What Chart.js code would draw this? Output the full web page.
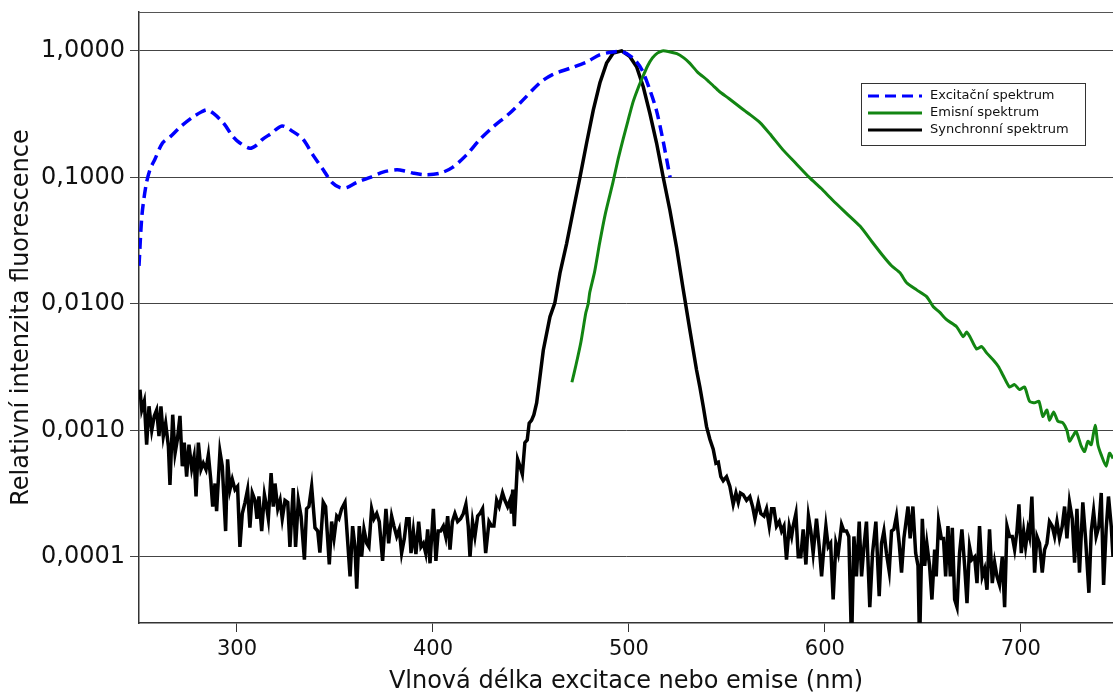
<!DOCTYPE html>
<html>
<head>
<meta charset="utf-8">
<script src="https://cdn.jsdelivr.net/npm/chart.js@4/dist/chart.umd.min.js"></script>
<style>
  html, body { margin: 0; padding: 0; background: #fff; }
</style>
</head>
<body>
<canvas id="spectraChart" width="1113" height="696"></canvas>
<script>
// -------------------------
// DATA
// -------------------------

const xTicks = [300, 400, 500, 600, 700];
const yTicks = [1, 0.1, 0.01, 0.001, 0.0001];

const seriesLabels = ["Excitační spektrum", "Emisní spektrum", "Synchronní spektrum"];

const excitationNm = [250, 251.5, 253.6, 255.6, 258, 262, 266, 271, 277.5, 282, 284.7, 288, 293, 298, 301.5,
  306.6, 310, 313, 317, 323, 328.6, 333.7, 338.8, 344, 348.5, 352.6, 356, 361, 368, 374.5, 381.6, 386, 390,
  396, 403.6, 410, 417, 424, 430.6, 439, 446, 454.6, 461, 470, 478.6, 485, 491.8, 497, 502, 506.6, 510.7,
  514, 517, 521];
const excitationValues = [0.020, 0.050, 0.087, 0.115, 0.138, 0.187, 0.21, 0.25, 0.30, 0.33, 0.342, 0.32, 0.27,
  0.21, 0.187, 0.17, 0.18, 0.20, 0.22, 0.255, 0.23, 0.20, 0.15, 0.115, 0.091, 0.083, 0.083, 0.091, 0.10, 0.11,
  0.115, 0.112, 0.108, 0.105, 0.108, 0.12, 0.15, 0.20, 0.25, 0.32, 0.41, 0.56, 0.65, 0.73, 0.82, 0.93, 0.98,
  0.98, 0.88, 0.71, 0.49, 0.34, 0.21, 0.10];

const emissionNm = [470.9, 473, 475.5, 478, 479.2, 480, 482.5, 485, 488, 491.8, 494.5, 497, 499.5, 502, 504.5,
  507, 509.5, 512, 514.5, 517, 520, 524.5, 528, 531, 535, 539.8, 543, 546, 551, 556.6, 561, 567, 572, 578.6,
  585, 592, 598, 604, 611, 618, 624, 629.6, 634, 638.3, 641.7, 646.8, 651.9, 655.3, 658.5, 662.1, 667.2,
  670.6, 672.3, 674, 677.4, 680, 682.5, 685.9, 688.5, 691, 694.2, 696.8, 699.3, 701.9, 704.4, 707, 709.2,
  711.2, 713.3, 714.6, 716.7, 718.9, 721.4, 723.5, 724.8, 726.5, 728.2, 730.8, 732.5, 734.2, 735.9, 737.9,
  739.3, 741, 743.5, 745.2, 747];
const emissionValues = [0.0024, 0.0033, 0.0050, 0.0085, 0.0100, 0.0123, 0.018, 0.030, 0.052, 0.091, 0.14, 0.20,
  0.28, 0.39, 0.50, 0.62, 0.76, 0.88, 0.96, 1.0, 0.99, 0.95, 0.88, 0.80, 0.68, 0.59, 0.53, 0.48, 0.42, 0.36,
  0.32, 0.27, 0.22, 0.165, 0.13, 0.10, 0.082, 0.066, 0.052, 0.041, 0.031, 0.024, 0.020, 0.0176, 0.0147,
  0.0129, 0.0114, 0.0095, 0.0086, 0.0075, 0.0066, 0.0055, 0.0060, 0.0055, 0.0044, 0.0046, 0.0041, 0.0036,
  0.0032, 0.0027, 0.0022, 0.0023, 0.0021, 0.0022, 0.0017, 0.00165, 0.0017, 0.00129, 0.00145, 0.0012, 0.0014,
  0.00118, 0.00115, 0.0010, 0.00082, 0.0009, 0.00098, 0.00075, 0.00068, 0.00082, 0.00077, 0.0011, 0.00077,
  0.00064, 0.00052, 0.00066, 0.0006];

const synchronousNm = [250.5, 251.4, 252.7, 253.9, 255.1, 256.5, 257.8, 259.0, 260.2, 261.2, 262.4, 263.6, 265.0,
  265.8, 267.2, 268.4, 269.6, 270.9, 272.1, 273.1, 274.3, 275.5, 276.9, 278.1, 279.1, 280.3, 281.6, 282.8,
  284.2, 285.4, 286.6, 287.6, 288.8, 289.6, 291.3, 292.5, 294.2, 295.2, 296.4, 297.6, 299.0, 300.3, 301.5,
  302.7, 304.1, 305.4, 306.6, 307.8, 309.2, 310.2, 311.2, 312.6, 314.0, 315.1, 316.0, 317.4, 318.5, 319.4,
  320.8, 322.0, 323.1, 324.5, 325.9, 327.0, 328.7, 329.9, 331.3, 332.7, 334.4, 335.5, 336.7, 338.1, 339.8,
  341.2, 342.3, 344.0, 345.2, 347.1, 348.3, 349.5, 350.9, 352.0, 353.4, 355.1,
  356.3, 357.7, 359.0, 360.2, 361.1, 362.4, 363.6, 364.8, 366.2, 367.3, 368.7, 369.9, 371.3, 372.6, 374.3,
  376.0, 377.4, 378.9, 380.1, 381.5, 382.8, 384.0, 385.4, 386.6, 387.8, 388.8, 390.0, 391.3, 392.7, 393.9,
  395.1, 396.3, 397.3, 398.5, 400.2, 401.5, 402.7, 403.9, 405.3, 406.5, 407.5, 408.7, 409.9, 411.2, 412.6,
  414.1, 415.5, 416.8, 418.0, 418.9, 420.2, 421.4, 422.8, 424.0, 425.3, 426.9, 428.6, 429.9, 431.1, 432.5,
  433.8, 435.5, 436.7, 438.1, 439.3, 440.1, 440.7, 441.5, 443.2, 444.4, 445.6, 446.9, 448.1, 449.1, 450.3,
  451.5, 452.9, 454.1,
  456.3, 459.7, 462.2, 464.8, 468.2, 471.6, 475.0, 478.4, 481.8, 485.2, 488.6, 492.0, 496.3, 500.5, 503.9,
  507.3, 510.7, 514.1, 517.5, 520.9, 524.3, 527.7, 531.1, 534.5,
  536.2, 537.9, 539.6, 541.3, 543.0, 544.4, 545.6, 546.9, 548.1, 549.8, 551.5, 553.2, 554.6, 555.8, 556.9,
  558.3, 560.0, 561.7, 563.1, 564.3, 566.0, 567.3, 568.9, 570.2, 571.6, 572.8, 574.0, 575.3, 576.7, 577.9,
  579.1, 580.4, 581.8, 583.0, 583.8, 585.2, 586.4, 587.7, 588.9, 590.3, 591.6, 592.8, 594.0, 595.7, 597.1,
  598.3, 599.5, 600.5, 601.7, 602.9, 604.2, 605.6, 606.8, 608.5, 609.7, 611.0, 612.2, 613.6, 614.8, 616.1,
  617.5, 618.7, 619.9, 621.2, 622.9, 624.3, 626.0, 627.7, 628.9, 630.1, 631.4, 632.8, 634.0, 635.2, 636.5,
  637.9, 639.1, 640.3,
  642.4, 643.5, 644.9, 646.3, 647.5, 648.3, 649.7, 650.9, 652.0, 653.4, 654.6, 656.0, 656.8, 658.0, 659.4,
  660.5, 661.6, 662.8, 664.0, 665.0, 666.2, 667.4, 668.7, 669.9, 671.3, 672.5, 673.8, 675.0, 676.4, 677.6,
  678.9, 680.3, 681.5, 682.7, 684.0, 685.4, 686.6, 687.8, 689.1, 690.5, 691.7, 692.9, 694.2, 695.6, 696.8,
  698.0, 699.0, 700.2, 701.4, 702.4, 703.6, 704.4, 705.6, 707.0, 708.2, 709.5, 710.9, 712.1, 713.3, 714.6,
  716.0, 717.2, 718.4, 719.7, 721.1, 722.3, 723.5, 724.8, 726.2, 727.4, 728.6, 729.9, 731.6, 733.0, 734.7,
  735.9, 737.1, 738.4, 739.8, 741.0, 742.2, 743.5, 744.7, 746.1, 747.0];
const synchronousValues = [0.0021, 0.00145, 0.0017, 0.00077, 0.00155, 0.0010, 0.0013, 0.00145, 0.00090, 0.00155,
  0.00090, 0.00114, 0.00075, 0.00037, 0.00133, 0.00066, 0.00085, 0.0013, 0.00052, 0.0008, 0.00043, 0.00077,
  0.00050, 0.00062, 0.0003, 0.0008, 0.00049, 0.00055, 0.00049, 0.00064, 0.00041, 0.00025, 0.00038, 0.00023,
  0.00068, 0.00052, 0.00016, 0.00059, 0.00034, 0.00041, 0.00034, 0.00036, 0.00012, 0.00022, 0.00027,
  0.00034, 0.00017, 0.00032, 0.00028, 0.0002, 0.0003, 0.00016, 0.00031, 0.00025, 0.0002, 0.00046, 0.00025,
  0.00038, 0.00024, 0.00028, 0.0002, 0.00028, 0.00027, 0.00012, 0.00035, 0.00012, 0.00028, 0.00021,
  0.000095, 0.00024, 0.00025, 0.00036, 0.00017, 0.00016, 0.000108, 0.00027, 0.00025, 0.000087, 0.00019,
  0.00014, 0.00021, 0.0002, 0.00024, 0.00027,
  0.000145, 0.00007, 0.000175, 0.00012, 0.000056, 0.000175, 0.0001, 0.000165, 0.000128, 0.00012, 0.00024,
  0.0002, 0.00022, 0.00019, 0.000093, 0.00024, 0.000128, 0.00021, 0.000175, 0.000145, 0.000165, 0.000107,
  0.00014, 0.0002, 0.0002, 0.000107, 0.00016, 0.000105, 0.00019, 0.00012, 0.000128, 0.000107, 0.000165,
  0.000089, 0.00024, 0.000093, 0.00016, 0.00016, 0.000175, 0.000145, 0.00021, 0.000114, 0.00019, 0.00022,
  0.00019, 0.0002, 0.00022, 0.00026, 0.000175, 0.0001, 0.00019, 0.000145, 0.00021, 0.00022, 0.00024,
  0.000107, 0.00019, 0.000175, 0.000175, 0.00028, 0.00025, 0.00032, 0.00028, 0.00025, 0.00028, 0.00022,
  0.00034, 0.000175, 0.00059, 0.00052, 0.00045, 0.0008, 0.00084, 0.00114, 0.0012, 0.00133, 0.00165, 0.0023,
  0.0043, 0.0079, 0.0102, 0.0175, 0.030, 0.055, 0.10, 0.187, 0.34, 0.56, 0.80, 0.96, 1.0, 0.90, 0.75, 0.52,
  0.32, 0.187, 0.10, 0.055, 0.028, 0.013, 0.0062, 0.0030,
  0.0022, 0.00155, 0.00107, 0.00085, 0.00071, 0.00055, 0.00056, 0.00043, 0.0004, 0.00043, 0.00036, 0.00026,
  0.00032, 0.00027, 0.00032, 0.00031, 0.00028, 0.0003, 0.00025, 0.0002, 0.00027, 0.00022, 0.00021, 0.00024,
  0.000175, 0.00024, 0.00024, 0.000175, 0.00019, 0.00016, 0.000175, 0.000095, 0.000175, 0.000145, 0.000175,
  0.00022, 0.0001, 0.0001, 0.000165, 0.000087, 0.00021, 0.00016, 0.000107, 0.0002, 0.00012, 0.00007,
  0.00012, 0.000175, 0.00012, 0.000128, 0.000046, 0.000128, 0.000107, 0.00018, 0.00016, 0.00016, 0.000145,
  0.00002, 0.000145, 0.00007, 0.00019, 0.00007, 0.00012, 0.00019, 0.00004, 0.000107, 0.00019, 0.000049,
  0.000128, 0.00016, 0.000107, 0.000077, 0.00016, 0.000165, 0.00021, 0.000128, 0.000075, 0.00014,
  0.00025, 0.00014, 0.00025, 0.000107, 0.000085, 0.00002, 0.0002, 0.000085, 0.000128, 0.000085, 0.000046,
  0.000114, 0.00007, 0.00019, 0.00014, 0.00014, 0.00007, 0.000175, 0.00007, 0.00017, 0.000046, 0.00004,
  0.000107, 0.000165, 0.000085, 0.000043, 0.00012, 0.000095, 0.0001, 0.000062, 0.000175, 0.00007, 0.00008,
  0.000055, 0.000165, 0.000062, 0.00009, 0.00007, 0.00006, 0.0001, 0.00004, 0.000175, 0.000145, 0.000145,
  0.000114, 0.00016, 0.00026, 0.000107, 0.00016, 0.00012, 0.000165, 0.000145, 0.0003, 0.000075, 0.000145,
  0.000128, 0.000075, 0.000114, 0.000128, 0.00019, 0.000175, 0.000145, 0.00019, 0.00014, 0.000175, 0.00025,
  0.00014, 0.00027, 0.0002, 0.00009, 0.00024, 0.000075, 0.00027, 0.00014, 0.000052, 0.00016, 0.00023,
  0.000145, 0.000175, 0.00032, 0.00006, 0.000165, 0.0003, 0.000175, 0.0001];

// -------------------------
// HELPERS
// -------------------------

function toPoints(xs, ys) {
    return xs.map((x, i) => ({ x: x, y: ys[i] }));
}

const FONT = "'DejaVu Sans', sans-serif";

// top frame line + legend box inside the plot
const framePlugin = {
    id: 'frameAndLegend',
    beforeDatasetsDraw(chart) {
        const { ctx, chartArea: a } = chart;
        ctx.save();
        ctx.strokeStyle = '#555';
        ctx.lineWidth = 1;
        ctx.beginPath();
        ctx.moveTo(a.left, a.top + 0.5);
        ctx.lineTo(a.right, a.top + 0.5);
        ctx.stroke();
        ctx.restore();
    },
    afterDraw(chart) {
        const ctx = chart.ctx;
        const bx = 861, by = 83, bw = 224, bh = 62;
        ctx.save();
        ctx.fillStyle = '#fff';
        ctx.fillRect(bx, by, bw, bh);
        ctx.strokeStyle = '#333';
        ctx.lineWidth = 1;
        ctx.strokeRect(bx + 0.5, by + 0.5, bw, bh);
        ctx.font = "13px " + FONT;
        ctx.textBaseline = 'middle';
        chart.data.datasets.forEach((ds, i) => {
            const y = by + 13 + i * 17;
            ctx.strokeStyle = ds.borderColor;
            ctx.lineWidth = 3;
            ctx.setLineDash(ds.borderDash || []);
            ctx.beginPath();
            ctx.moveTo(bx + 7, y);
            ctx.lineTo(bx + 61, y);
            ctx.stroke();
            ctx.setLineDash([]);
            ctx.fillStyle = '#111';
            ctx.fillText(ds.label, bx + 69, y);
        });
        ctx.restore();
    }
};

// -------------------------
// CHART
// -------------------------

new Chart(document.getElementById("spectraChart"), {
    type: 'line',
    data: {
        datasets: [{
            label: seriesLabels[0],
            data: toPoints(excitationNm, excitationValues),
            borderColor: '#0000ff',
            borderWidth: 3.5,
            borderDash: [11, 6],
            tension: 0.3
        }, {
            label: seriesLabels[1],
            data: toPoints(emissionNm, emissionValues),
            borderColor: '#128512',
            borderWidth: 3,
            tension: 0.2
        }, {
            label: seriesLabels[2],
            data: toPoints(synchronousNm, synchronousValues),
            borderColor: '#000000',
            borderWidth: 3.5,
            tension: 0
        }]
    },
    options: {
        responsive: false,
        animation: false,
        devicePixelRatio: 1,
        layout: { padding: { top: 12, right: 0, left: 0, bottom: 0 } },
        elements: { point: { radius: 0 } },
        plugins: {
            legend: { display: false },
            tooltip: { enabled: false }
        },
        scales: {
            x: {
                type: 'linear',
                min: 250,
                max: 747,
                afterBuildTicks: s => { s.ticks = xTicks.map(v => ({ value: v })); },
                afterFit: s => { s.height = 73; s.paddingLeft = 0; s.paddingRight = 0; },
                grid: { drawOnChartArea: false, drawTicks: true, tickLength: 9, color: '#333' },
                border: { color: '#333', width: 1.5 },
                ticks: { font: { family: FONT, size: 21 }, color: '#111', padding: 5, maxRotation: 0 },
                title: {
                    display: true,
                    text: 'Vlnová délka excitace nebo emise (nm)',
                    font: { family: FONT, size: 24 },
                    color: '#111',
                    padding: { top: 0, bottom: 0 }
                }
            },
            y: {
                type: 'logarithmic',
                min: 3.0e-5,
                max: 2.03,
                afterBuildTicks: s => { s.ticks = yTicks.map(v => ({ value: v })); },
                afterFit: s => { s.width = 139; s.paddingTop = 0; s.paddingBottom = 0; },
                grid: { drawOnChartArea: true, drawTicks: true, tickLength: 9, color: '#444', lineWidth: 1 },
                border: { color: '#333', width: 1.5 },
                ticks: {
                    font: { family: FONT, size: 24 },
                    color: '#111',
                    padding: 5,
                    callback: v => v.toFixed(4).replace('.', ',')
                },
                title: {
                    display: true,
                    text: 'Relativní intenzita fluorescence',
                    font: { family: FONT, size: 24 },
                    color: '#111',
                    padding: { top: 7, bottom: 0 }
                }
            }
        }
    },
    plugins: [framePlugin]
});
</script>
</body>
</html>
